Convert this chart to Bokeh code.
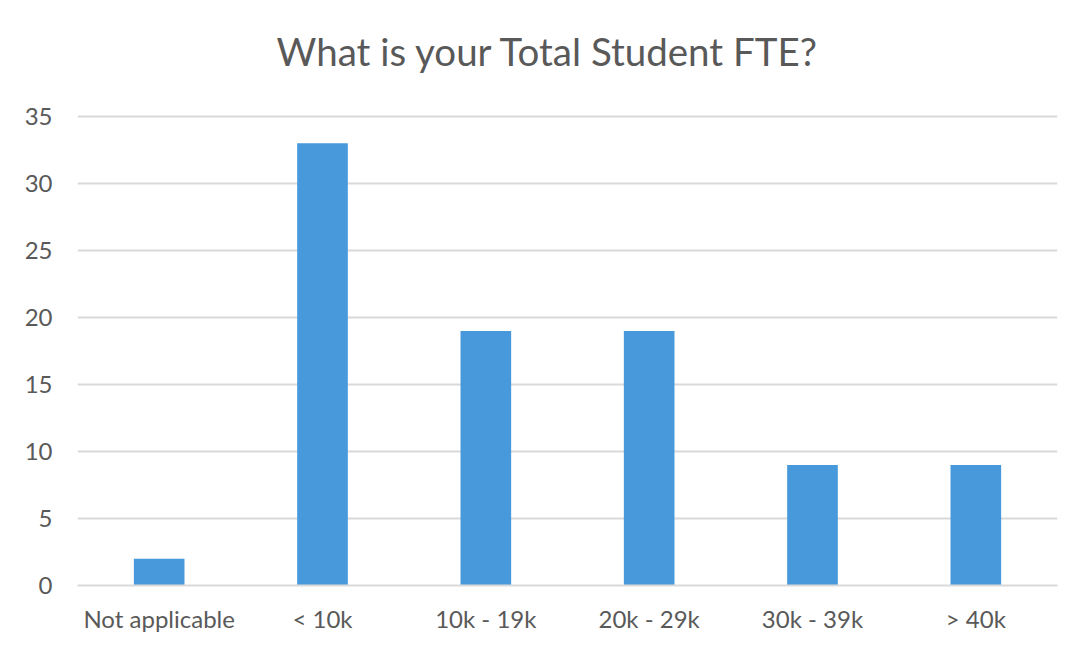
from bokeh.plotting import figure
from bokeh.models import FactorRange, Range1d
from bokeh.embed import file_html
from bokeh.resources import INLINE

categories = ["Not applicable", "< 10k", "10k - 19k", "20k - 29k", "30k - 39k", "> 40k"]
counts = [2, 33, 19, 19, 9, 9]
y_ticks = [0, 5, 10, 15, 20, 25, 30, 35]

TEXT = "#595959"
GRID = "#d9d9d9"
BAR = "#4799db"

p = figure(width=1068, height=635, output_backend="svg", toolbar_location=None,
           x_range=FactorRange(factors=categories, range_padding=0),
           y_range=Range1d(0, 36.49),
           title="What is your Total Student FTE?",
           min_border_left=77, min_border_right=11, min_border_top=96, min_border_bottom=48)

p.vbar(x=categories, top=counts, width=0.31, color=BAR, line_color=None)

p.title.align = "left"
p.title.offset = 199
p.title.standoff = 46
p.title.text_font = "Lato"
p.title.text_font_size = "38.5px"
p.title.text_font_style = "normal"
p.title.text_color = TEXT

p.outline_line_color = None
p.xgrid.grid_line_color = None
p.ygrid.grid_line_color = GRID
p.ygrid.grid_line_width = 2
p.yaxis.ticker = y_ticks
p.yaxis.axis_line_color = None
p.yaxis.major_tick_line_color = None
p.yaxis.minor_tick_line_color = None
p.yaxis.major_label_standoff = 19
p.xaxis.axis_line_color = GRID
p.xaxis.axis_line_width = 2
p.xaxis.major_tick_line_color = None
p.xaxis.minor_tick_line_color = None
p.xaxis.major_label_standoff = 12
for ax in (p.xaxis, p.yaxis):
    ax.major_label_text_font = "Lato"
    ax.major_label_text_font_size = "24px"
    ax.major_label_text_color = TEXT

open("out.html", "w").write(file_html(p, INLINE))
